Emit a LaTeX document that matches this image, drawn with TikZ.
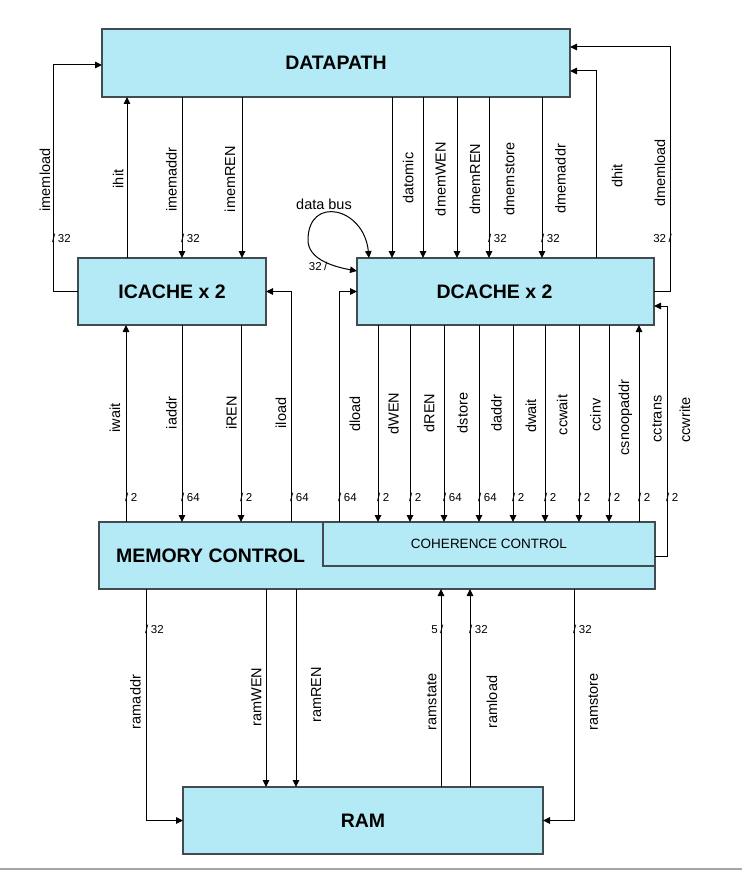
\documentclass[tikz,border=0pt]{standalone}
\usepackage{fontspec}
\setmainfont{Liberation Sans}
\usetikzlibrary{arrows.meta,calc}
\definecolor{boxfill}{RGB}{180,234,246}
\definecolor{boxline}{RGB}{66,76,80}
\begin{document}
\begin{tikzpicture}[x=1pt,y=-1pt,
  box/.style={draw=boxline, line width=1.2pt, fill=boxfill, inner sep=0pt, outer sep=0pt},
  title/.style={font=\fontsize{19.5}{22}\selectfont\bfseries},
  cctitle/.style={font=\fontsize{13.5}{16}\selectfont},
  sig/.style={font=\fontsize{14.5}{17}\selectfont, rotate=90, anchor=base, inner sep=0pt},
  bw/.style={font=\fontsize{11.5}{13}\selectfont, inner sep=0pt, anchor=base west},
  bwl/.style={font=\fontsize{11.5}{13}\selectfont, inner sep=0pt, anchor=base east},
  wire/.style={line width=1pt, draw=black},
  arr/.style={wire, -{Triangle[length=7pt,width=6.5pt]}},
  darr/.style={wire, {Triangle[length=7pt,width=6.5pt]}-{Triangle[length=7pt,width=6.5pt]}},
]
\useasboundingbox (0,0) rectangle (742,872);

% boxes
\node[box, title, minimum width=468pt, minimum height=68pt] (dp) at (336,63) {DATAPATH};
\node[box, title, minimum width=188pt, minimum height=67pt] (ic) at (172,291.5) {ICACHE x 2};
\node[box, minimum width=297pt, minimum height=67pt] (dc) at (505.5,291.5) {};
\node[title] (dct) at (494.5,291.5) {DCACHE x 2};
\node[box, minimum width=556pt, minimum height=67pt] (mc) at (377,555.5) {};
\node[title] (mct) at (210.5,556) {MEMORY CONTROL};
\node[box, cctitle, minimum width=332pt, minimum height=44pt] (cc) at (489,544) {COHERENCE CONTROL};
\node[box, title, minimum width=360pt, minimum height=67pt] (ram) at (363,820.5) {RAM};

% x positions of the wires
\foreach \n/\x in {ihit/127, imemaddr/182, imemREN/242, datomic/392, dmemWEN/423,
  dmemREN/457, dmemstore/489, dmemaddr/542, iwait/126, iaddr/182, iREN/241,
  iload/291, dload/339, dWEN/378, dREN/410, dstore/444, daddr/479, dwait/513,
  ccwait/545, ccinv/579, csnoop/609, cctrans/639, ramWEN/266, ramREN/296,
  ramstate/441, ramload/470, ramaddr/146, ramstore/574}
  \coordinate (x\n) at (\x,0);

% bend points
\coordinate (imlA) at (53,65);
\coordinate (dhA) at (596,71);
\coordinate (dmlA) at (670,47);
\coordinate (cwA) at (667,306);
\coordinate (dbA) at (369,258);
\coordinate (dbL) at (308,240);
\coordinate (dbB) at (357,271);

% datapath <-> icache
\draw[arr] (ic.west) -| (imlA) -- (imlA -| dp.west);
\draw[arr] (ic.north -| xihit) -- (dp.south -| xihit);
\draw[arr] (dp.south -| ximemaddr) -- (ic.north -| ximemaddr);
\draw[arr] (dp.south -| ximemREN) -- (ic.north -| ximemREN);

% datapath <-> dcache
\foreach \n in {datomic, dmemWEN, dmemREN, dmemstore, dmemaddr}
  \draw[arr] (dp.south -| x\n) -- (dc.north -| x\n);
\draw[arr] (dc.north -| dhA) -- (dhA) -- (dhA -| dp.east);
\draw[arr] (dc.east) -| (dmlA) -- (dmlA -| dp.east);

% data bus loop
\draw[darr] (dbA) .. controls +(-5,-51) and +(0,-45) .. (dbL) .. controls +(0,18) and +(-27,-5) .. (dbB);

% icache <-> memory control
\draw[arr] (mc.north -| xiwait) -- (ic.south -| xiwait);
\draw[arr] (ic.south -| xiaddr) -- (mc.north -| xiaddr);
\draw[arr] (ic.south -| xiREN) -- (mc.north -| xiREN);
\draw[arr] (mc.north -| xiload) |- (ic.east);

% dcache <-> memory / coherence control
\draw[arr] (mc.north -| xdload) |- (dc.west);
\foreach \n in {dWEN, dREN, dstore, daddr, dwait, ccwait, ccinv, csnoop}
  \draw[arr] (dc.south -| x\n) -- (cc.north -| x\n);
\draw[arr] (cc.north -| xcctrans) -- (dc.south -| xcctrans);
\draw[arr] ([yshift=10pt]cc.south east) -| (cwA) -- (cwA -| dc.east);

% memory control <-> ram
\draw[arr] (mc.south -| xramaddr) |- (ram.west);
\draw[arr] (mc.south -| xramWEN) -- (ram.north -| xramWEN);
\draw[arr] (mc.south -| xramREN) -- (ram.north -| xramREN);
\draw[arr] (ram.north -| xramstate) -- (mc.south -| xramstate);
\draw[arr] (ram.north -| xramload) -- (mc.south -| xramload);
\draw[arr] (mc.south -| xramstore) |- (ram.east);

% signal names
\node[sig] (l1) at (50,180) {imemload};
\node[sig] (l2) at (123.3,179) {ihit};
\node[sig] (l3) at (176.7,179.5) {imemaddr};
\node[sig] (l4) at (235,179) {imemREN};
\node[sig] (l5) at (413.3,178) {datomic};
\node[sig] (l6) at (445.7,179) {dmemWEN};
\node[sig] (l7) at (480,179) {dmemREN};
\node[sig] (l8) at (514.3,179) {dmemstore};
\node[sig] (l9) at (565.7,178.7) {dmemaddr};
\node[sig] (l10) at (622.3,176) {dhit};
\node[sig] (l11) at (665,173) {dmemload};
\node[sig] (l12) at (120,418) {iwait};
\node[sig] (l13) at (176.7,413) {iaddr};
\node[sig] (l14) at (236.7,413) {iREN};
\node[sig] (l15) at (286,413) {iload};
\node[sig] (l16) at (360,414) {dload};
\node[sig] (l17) at (398.7,413.5) {dWEN};
\node[sig] (l18) at (434.3,413) {dREN};
\node[sig] (l19) at (467.7,413) {dstore};
\node[sig] (l20) at (501.7,413) {daddr};
\node[sig] (l21) at (536,416) {dwait};
\node[sig] (l22) at (567.3,415) {ccwait};
\node[sig] (l23) at (600.7,415) {ccinv};
\node[sig] (l24) at (629,417.5) {csnoopaddr};
\node[sig] (l25) at (661.7,419) {cctrans};
\node[sig] (l26) at (690,420) {ccwrite};
\node[sig] (l27) at (140.7,702) {ramaddr};
\node[sig] (l28) at (261.4,697) {ramWEN};
\node[sig] (l29) at (321,695) {ramREN};
\node[sig] (l30) at (436.4,702) {ramstate};
\node[sig] (l31) at (497.1,702) {ramload};
\node[sig] (l32) at (597.9,702) {ramstore};
\node[font=\fontsize{14.5}{17}\selectfont, anchor=base, inner sep=0pt] (ldb) at (324,209.5) {data bus};

% bus widths
\node[bw] (w1) at (52,242) {/\hspace{2.5pt}32};
\node[bw] (w2) at (181,242) {/\hspace{2.5pt}32};
\node[bw] (w3) at (488,242) {/\hspace{2.5pt}32};
\node[bw] (w4) at (541,242) {/\hspace{2.5pt}32};
\node[bwl] (w5) at (672,242) {32\hspace{2.5pt}/};
\node[bwl] (w6) at (327.6,270) {32\hspace{2.5pt}/};
\foreach \n/\x/\t in {7/125/2, 8/181/64, 9/240/2, 10/290/64, 11/338/64, 12/377/2,
  13/409/2, 14/443/64, 15/478/64, 16/512/2, 17/544/2, 18/578/2, 19/608/2,
  20/638/2, 21/666/2}
  \node[bw] (w\n) at (\x,501) {/\hspace{2.5pt}\t};
\node[bw] (w22) at (145,633) {/\hspace{2.5pt}32};
\node[bwl] (w23) at (443.6,633) {5\hspace{2.5pt}/};
\node[bw] (w24) at (469,633) {/\hspace{2.5pt}32};
\node[bw] (w25) at (573,633) {/\hspace{2.5pt}32};

% bottom rule
\coordinate (bl) at (0,869);
\coordinate (br) at (742,869);
\draw[line width=1.5pt, draw=black!35] (bl) -- (br);
\end{tikzpicture}
\end{document}
